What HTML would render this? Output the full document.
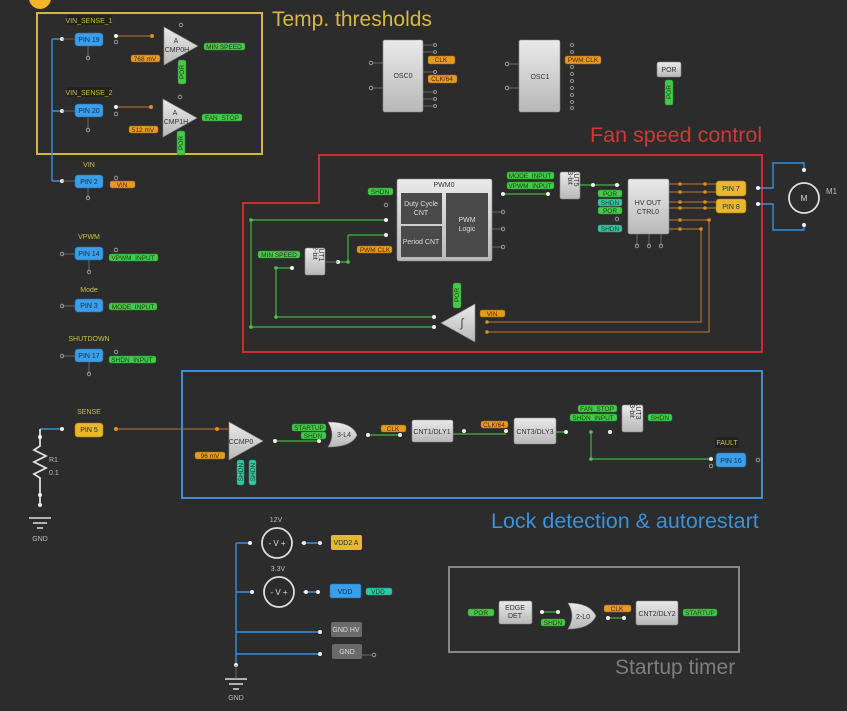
<!DOCTYPE html>
<html><head><meta charset="utf-8"><style>
html,body{margin:0;padding:0;background:#2c2c2c;}
svg{display:block;font-family:"Liberation Sans",sans-serif;}
.g{fill:#45c94a;stroke:#2a8a2e;stroke-width:.5}
.o{fill:#e79a22;stroke:#9a5e10;stroke-width:.5}
.t{fill:#2fc9a8;stroke:#1a8a70;stroke-width:.5}
.tx{font-size:6.5px;fill:#1e3a10;text-anchor:middle}
.ox{font-size:6.5px;fill:#4a2a00;text-anchor:middle}
.pin{fill:#3a9ee8;stroke:#2070b0;stroke-width:.6}
.px{font-size:7px;fill:#0f3050;text-anchor:middle}
.blk{fill:url(#gr);stroke:#888;stroke-width:.6}
.bx{font-size:7px;fill:#333;text-anchor:middle}
.lb{font-size:7px;fill:#c8c040;text-anchor:middle}
.wl{font-size:7px;fill:#bbb;text-anchor:middle}
.d{fill:#eee}
.od{fill:#e08a20}
.gd{fill:#45c94a}
.oc{fill:none;stroke:#aaa;stroke-width:.8}
.ln{stroke:#777;stroke-width:.8;fill:none}
.gl{stroke:#3cb83c;stroke-width:1.2;fill:none}
.ol{stroke:#c07a30;stroke-width:1;fill:none}
.bl{stroke:#3a8ee0;stroke-width:1.4;fill:none}
</style></head><body>
<svg width="847" height="711" viewBox="0 0 847 711">
<defs><linearGradient id="gr" x1="0" y1="0" x2="0" y2="1"><stop offset="0" stop-color="#eaeaea"/><stop offset="1" stop-color="#b8b8b8"/></linearGradient></defs>
<rect width="847" height="711" fill="#2c2c2c"/>
<circle cx="40" cy="-2" r="11" fill="#f2b424"/>

<!-- Temp thresholds -->
<rect x="37" y="13" width="225" height="141" fill="none" stroke="#d8b440" stroke-width="2"/>
<text x="272" y="26" font-size="21" fill="#d8b840">Temp. thresholds</text>
<path class="bl" d="M52 39V181M52 39H62M52 111H62M52 181H62"/>
<circle class="d" cx="62" cy="39" r="2"/><circle class="d" cx="62" cy="111" r="2"/><circle class="d" cx="62" cy="181" r="2"/>
<path class="ln" d="M62 39H75M62 111H75M62 181H75M88 46V58M88 118V130M88 188V198"/>
<circle class="oc" cx="88" cy="58" r="1.8"/><circle class="oc" cx="88" cy="130" r="1.8"/><circle class="oc" cx="88" cy="198" r="1.8"/>
<rect x="66" y="15" width="46" height="10" fill="#222"/><text class="lb" x="89" y="23">VIN_SENSE_1</text>
<rect class="pin" x="75" y="33" width="28" height="13" rx="3"/><text class="px" x="89" y="42">PIN 19</text>
<path class="ol" d="M116 36H152"/><circle class="od" cx="152" cy="36" r="2"/><circle class="d" cx="116" cy="36" r="2"/><circle class="oc" cx="116" cy="42" r="1.8"/>
<polygon class="blk" points="164,27 198,46 164,65"/><text class="bx" x="176" y="43">A</text><text class="bx" x="177" y="52" font-size="6">CMP0H</text>
<circle class="oc" cx="181" cy="25" r="1.8"/>
<rect class="o" x="131" y="55" width="29" height="7" rx="2"/><text class="ox" x="145" y="61">768 mV</text>
<rect class="g" x="204" y="43" width="41" height="7" rx="2"/><text class="tx" x="224" y="49">MIN SPEED</text>
<rect class="g" x="178" y="60" width="8" height="24" rx="2"/><text class="tx" transform="translate(184,72) rotate(-90)">POR</text>
<rect x="66" y="87" width="46" height="10" fill="#222"/><text class="lb" x="89" y="95">VIN_SENSE_2</text>
<rect class="pin" x="75" y="104" width="28" height="13" rx="3"/><text class="px" x="89" y="113">PIN 20</text>
<path class="ol" d="M116 107H151"/><circle class="od" cx="151" cy="107" r="2"/><circle class="d" cx="116" cy="107" r="2"/><circle class="oc" cx="116" cy="114" r="1.8"/>
<polygon class="blk" points="163,99 197,118 163,137"/><text class="bx" x="175" y="115">A</text><text class="bx" x="176" y="124" font-size="6">CMP1H</text>
<circle class="oc" cx="180" cy="97" r="1.8"/>
<rect class="o" x="129" y="126" width="29" height="7" rx="2"/><text class="ox" x="143" y="132">512 mV</text>
<rect class="g" x="202" y="114" width="40" height="7" rx="2"/><text class="tx" x="222" y="120">FAN_STOP</text>
<rect class="g" x="177" y="131" width="8" height="24" rx="2"/><text class="tx" transform="translate(183,143) rotate(-90)">POR</text>
<text class="lb" x="89" y="167">VIN</text>
<rect class="pin" x="75" y="175" width="28" height="13" rx="3"/><text class="px" x="89" y="184">PIN 2</text>
<circle class="oc" cx="116" cy="178" r="1.8"/>
<rect class="o" x="110" y="181" width="25" height="7" rx="2"/><text class="ox" x="122" y="187">VIN</text>

<!-- left pins -->
<text class="lb" x="89" y="239">VPWM</text>
<rect class="pin" x="75" y="247" width="28" height="13" rx="3"/><text class="px" x="89" y="256">PIN 14</text>
<path class="ln" d="M62 254H75M89 260V272"/><circle class="oc" cx="62" cy="254" r="1.8"/><circle class="oc" cx="89" cy="272" r="1.8"/><circle class="oc" cx="116" cy="250" r="1.8"/>
<rect class="g" x="109" y="254" width="49" height="7" rx="2"/><text class="tx" x="133" y="260">VPWM_INPUT</text>
<text class="lb" x="89" y="292">Mode</text>
<rect class="pin" x="75" y="299" width="28" height="13" rx="3"/><text class="px" x="89" y="308">PIN 3</text>
<path class="ln" d="M62 306H75"/><circle class="oc" cx="62" cy="306" r="1.8"/>
<rect class="g" x="109" y="303" width="48" height="7" rx="2"/><text class="tx" x="133" y="309">MODE_INPUT</text>
<text class="lb" x="89" y="341">SHUTDOWN</text>
<rect class="pin" x="75" y="349" width="28" height="13" rx="3"/><text class="px" x="89" y="358">PIN 17</text>
<path class="ln" d="M62 356H75M89 362V374"/><circle class="oc" cx="62" cy="356" r="1.8"/><circle class="oc" cx="89" cy="374" r="1.8"/><circle class="oc" cx="116" cy="352" r="1.8"/>
<rect class="g" x="109" y="356" width="47" height="7" rx="2"/><text class="tx" x="132" y="362">SHDN_INPUT</text>
<text class="lb" x="89" y="414">SENSE</text>
<rect x="75" y="423" width="28" height="14" rx="3" fill="#eab62a" stroke="#a07a10" stroke-width=".6"/><text class="px" x="89" y="432" fill="#4a3000">PIN 5</text>
<path class="bl" d="M40 429H62"/><circle class="d" cx="62" cy="429" r="2"/>
<path class="ol" d="M116 429H228"/><circle class="od" cx="116" cy="429" r="2"/><circle class="od" cx="217" cy="429" r="2"/>
<path d="M40 429V446L34 450L46 456L34 462L46 468L34 474L40 478V505" stroke="#ddd" stroke-width="1.8" fill="none"/>
<circle class="d" cx="40" cy="437" r="2"/><circle class="d" cx="40" cy="495" r="2"/><circle class="d" cx="40" cy="505" r="2"/>
<text x="49" y="462" font-size="7" fill="#bbb">R1</text><text x="49" y="475" font-size="7" fill="#bbb">0.1</text>
<path d="M29 518H51M33 523H47M37 528H43" stroke="#ddd" stroke-width="1.5"/>
<text class="wl" x="40" y="541">GND</text>

<!-- OSCs -->
<rect class="blk" x="383" y="40" width="40" height="72" rx="2"/><text class="bx" x="403" y="78">OSC0</text>
<path class="ln" d="M372 63H383M372 88H383"/><circle class="oc" cx="371" cy="63" r="1.8"/><circle class="oc" cx="371" cy="88" r="1.8"/>
<g class="oc"><circle cx="435" cy="45" r="1.5"/><circle cx="435" cy="52" r="1.5"/><circle cx="435" cy="72" r="1.5"/><circle cx="435" cy="92" r="1.5"/><circle cx="435" cy="99" r="1.5"/><circle cx="435" cy="106" r="1.5"/></g>
<path class="ln" d="M423 45H435M423 52H435M423 72H435M423 92H435M423 99H435M423 106H435"/>
<rect class="o" x="428" y="56" width="27" height="8" rx="2"/><text class="ox" x="441" y="62">CLK</text>
<rect class="o" x="428" y="75" width="29" height="8" rx="2"/><text class="ox" x="442" y="81">CLK/64</text>
<rect class="blk" x="519" y="40" width="41" height="72" rx="2"/><text class="bx" x="540" y="79">OSC1</text>
<path class="ln" d="M508 64H519M508 88H519"/><circle class="oc" cx="507" cy="64" r="1.8"/><circle class="oc" cx="507" cy="88" r="1.8"/>
<g class="oc"><circle cx="572" cy="45" r="1.5"/><circle cx="572" cy="52" r="1.5"/><circle cx="572" cy="67" r="1.5"/><circle cx="572" cy="74" r="1.5"/><circle cx="572" cy="81" r="1.5"/><circle cx="572" cy="88" r="1.5"/><circle cx="572" cy="95" r="1.5"/><circle cx="572" cy="102" r="1.5"/><circle cx="572" cy="108" r="1.5"/></g>
<rect class="o" x="565" y="56" width="36" height="8" rx="2"/><text class="ox" x="583" y="62">PWM CLK</text>
<rect class="blk" x="657" y="62" width="24" height="15" rx="2"/><text class="bx" x="669" y="72">POR</text>
<rect class="g" x="665" y="80" width="8" height="25" rx="2"/><text class="tx" transform="translate(671,92) rotate(-90)">POR</text>

<!-- Fan speed control -->
<path d="M243 203H319V155H762V352H243Z" fill="none" stroke="#c83030" stroke-width="2"/>
<text x="590" y="142" font-size="21.5" fill="#d03838">Fan speed control</text>
<path class="gl" d="M251 220H386M251 220V327H434M348 235H386M348 235V262H338M276 268V317H434M276 268H292"/>
<circle class="gd" cx="251" cy="220" r="1.8"/><circle class="gd" cx="251" cy="327" r="1.8"/><circle class="gd" cx="348" cy="262" r="1.8"/><circle class="gd" cx="276" cy="268" r="1.8"/><circle class="gd" cx="276" cy="317" r="1.8"/>
<circle class="d" cx="386" cy="220" r="2"/><circle class="d" cx="386" cy="235" r="2"/><circle class="d" cx="338" cy="262" r="2"/><circle class="d" cx="292" cy="268" r="2"/><circle class="d" cx="434" cy="317" r="2"/><circle class="d" cx="434" cy="327" r="2"/>
<circle class="oc" cx="386" cy="205" r="1.8"/>
<rect class="blk" x="397" y="179" width="95" height="82" rx="2"/><text class="bx" x="444" y="187">PWM0</text>
<rect x="401" y="193" width="41" height="31" fill="#4a4a4a"/><text x="421" y="206" font-size="7" fill="#ddd" text-anchor="middle">Duty Cycle</text><text x="421" y="215" font-size="7" fill="#ddd" text-anchor="middle">CNT</text>
<rect x="401" y="226" width="41" height="31" fill="#4a4a4a"/><text x="421" y="244" font-size="7" fill="#ddd" text-anchor="middle">Period CNT</text>
<rect x="446" y="193" width="42" height="64" fill="#4a4a4a"/><text x="467" y="222" font-size="7" fill="#ddd" text-anchor="middle">PWM</text><text x="467" y="231" font-size="7" fill="#ddd" text-anchor="middle">Logic</text>
<path class="ln" d="M492 212H503M492 229H503M492 247H503"/><circle class="oc" cx="503" cy="212" r="1.8"/><circle class="oc" cx="503" cy="229" r="1.8"/><circle class="oc" cx="503" cy="247" r="1.8"/>
<rect class="g" x="368" y="188" width="25" height="7" rx="2"/><text class="tx" x="380" y="194">SHDN</text>
<rect class="o" x="357" y="246" width="35" height="7" rx="2"/><text class="ox" x="375" y="252">PWM CLK</text>
<rect class="g" x="258" y="251" width="42" height="7" rx="2"/><text class="tx" x="279" y="257">MIN SPEED</text>
<rect class="blk" x="305" y="248" width="20" height="27" rx="2"/><text class="bx" font-size="5" transform="translate(313,253) rotate(90)">2-bit</text><text class="bx" font-size="5" transform="translate(319,253) rotate(90)">LUT1</text>
<path class="ln" d="M325 262H338"/>
<path class="gl" d="M503 194H548"/><circle class="d" cx="503" cy="194" r="2"/><circle class="d" cx="548" cy="194" r="2"/>
<rect class="g" x="507" y="172" width="47" height="7" rx="2"/><text class="tx" x="530" y="178">MODE_INPUT</text>
<rect class="g" x="507" y="182" width="47" height="7" rx="2"/><text class="tx" x="530" y="188">VPWM_INPUT</text>
<rect class="blk" x="560" y="172" width="20" height="27" rx="2"/><text class="bx" font-size="5" transform="translate(568,178) rotate(90)">3-bit</text><text class="bx" font-size="5" transform="translate(574,178) rotate(90)">LUT5</text>
<path class="gl" d="M580 185H620"/><circle class="d" cx="593" cy="185" r="2"/><circle class="d" cx="617" cy="185" r="2"/>
<rect class="g" x="598" y="190" width="24" height="7" rx="2"/><text class="tx" x="610" y="196">POR</text>
<rect class="t" x="598" y="199" width="24" height="7" rx="2"/><text class="tx" x="610" y="205">SHDN</text>
<rect class="g" x="598" y="207" width="24" height="7" rx="2"/><text class="tx" x="610" y="213">POR</text>
<circle class="oc" cx="617" cy="219" r="1.8"/>
<rect class="t" x="598" y="225" width="24" height="7" rx="2"/><text class="tx" x="610" y="231">SHDN</text>
<rect class="blk" x="628" y="179" width="41" height="55" rx="2"/><text class="bx" x="648" y="205">HV OUT</text><text class="bx" x="648" y="214">CTRL0</text>
<path class="ln" d="M637 234V246M649 234V246M661 234V246"/><circle class="oc" cx="637" cy="246" r="1.8"/><circle class="oc" cx="649" cy="246" r="1.8"/><circle class="oc" cx="661" cy="246" r="1.8"/>
<path class="ol" d="M669 184H716M669 192H716M669 202H716M669 208H716M669 220H709V332H487M669 229H701V322H487"/>
<g class="od"><circle cx="680" cy="184" r="1.8"/><circle cx="680" cy="192" r="1.8"/><circle cx="680" cy="202" r="1.8"/><circle cx="680" cy="208" r="1.8"/><circle cx="680" cy="220" r="1.8"/><circle cx="680" cy="229" r="1.8"/><circle cx="705" cy="184" r="1.8"/><circle cx="705" cy="192" r="1.8"/><circle cx="705" cy="202" r="1.8"/><circle cx="705" cy="208" r="1.8"/><circle cx="709" cy="220" r="1.8"/><circle cx="701" cy="229" r="1.8"/><circle cx="487" cy="322" r="1.8"/><circle cx="487" cy="332" r="1.8"/></g>
<rect x="716" y="181" width="30" height="15" rx="3" fill="#eab62a" stroke="#a07a10" stroke-width=".6"/><text class="px" x="731" y="191" fill="#4a3000">PIN 7</text>
<rect x="716" y="199" width="30" height="14" rx="3" fill="#eab62a" stroke="#a07a10" stroke-width=".6"/><text class="px" x="731" y="209" fill="#4a3000">PIN 8</text>
<path class="bl" d="M758 188H773V163H804V170M758 204H773V230H804V225"/>
<circle class="d" cx="758" cy="188" r="2"/><circle class="d" cx="758" cy="204" r="2"/><circle class="d" cx="804" cy="170" r="2"/><circle class="d" cx="804" cy="225" r="2"/>
<circle cx="804" cy="198" r="15" fill="none" stroke="#ddd" stroke-width="1.8"/><text x="804" y="201" font-size="8" fill="#ddd" text-anchor="middle">M</text>
<text x="826" y="194" font-size="8" fill="#bbb">M1</text>
<polygon class="blk" points="475,304 475,342 441,323"/><text x="462" y="327" font-size="12" fill="#444" text-anchor="middle">∫</text>
<rect class="g" x="453" y="283" width="8" height="25" rx="2"/><text class="tx" transform="translate(459,295) rotate(-90)">POR</text>
<rect class="o" x="480" y="310" width="25" height="7" rx="2"/><text class="ox" x="492" y="316">VIN</text>

<!-- Lock detection -->
<rect x="182" y="371" width="580" height="127" fill="none" stroke="#3a8fd8" stroke-width="2"/>
<text x="491" y="528" font-size="21.5" fill="#3a92d8">Lock detection &amp; autorestart</text>
<polygon class="blk" points="229,422 229,460 263,441"/><text class="bx" x="241" y="444">CCMP0</text>
<rect class="o" x="195" y="452" width="30" height="7" rx="2"/><text class="ox" x="210" y="458">96 mV</text>
<rect class="t" x="237" y="460" width="7" height="25" rx="2"/><text class="tx" transform="translate(243,472) rotate(-90)">SHDN</text>
<rect class="t" x="249" y="460" width="7" height="25" rx="2"/><text class="tx" transform="translate(255,472) rotate(-90)">SHDN</text>
<path class="gl" d="M275 441H319"/><circle class="d" cx="275" cy="441" r="2"/><circle class="d" cx="319" cy="441" r="2"/>
<rect class="g" x="292" y="424" width="34" height="7" rx="2"/><text class="tx" x="309" y="430">STARTUP</text>
<rect class="g" x="301" y="432" width="25" height="7" rx="2"/><text class="tx" x="313" y="438">SHDN</text>
<path d="M328 422Q352 422 357 435Q352 447 328 447Q336 435 328 422Z" fill="url(#gr)" stroke="#888" stroke-width=".6"/><text class="bx" x="344" y="437">3-L4</text>
<path class="gl" d="M368 435H400M433 434H506M522 432H564M591 432V459H711"/><circle class="d" cx="368" cy="435" r="2"/><circle class="d" cx="400" cy="435" r="2"/>
<rect class="o" x="381" y="425" width="25" height="7" rx="2"/><text class="ox" x="393" y="431">CLK</text>
<rect class="blk" x="412" y="420" width="41" height="22" rx="2"/><text class="bx" x="432" y="434">CNT1/DLY1</text>
<circle class="d" cx="464" cy="431" r="2"/><circle class="d" cx="506" cy="431" r="2"/>
<rect class="o" x="481" y="421" width="27" height="7" rx="2"/><text class="ox" x="494" y="427">CLK/64</text>
<rect class="blk" x="514" y="418" width="42" height="26" rx="2"/><text class="bx" x="535" y="434">CNT3/DLY3</text>
<circle class="d" cx="566" cy="432" r="2"/><circle class="d" cx="610" cy="432" r="2"/><circle class="gd" cx="591" cy="432" r="1.8"/><circle class="gd" cx="591" cy="459" r="1.8"/><circle class="d" cx="711" cy="459" r="2"/><circle class="oc" cx="711" cy="466" r="1.8"/>
<rect class="g" x="578" y="405" width="39" height="7" rx="2"/><text class="tx" x="597" y="411">FAN_STOP</text>
<rect class="g" x="570" y="414" width="47" height="7" rx="2"/><text class="tx" x="593" y="420">SHDN_INPUT</text>
<rect class="blk" x="622" y="405" width="21" height="27" rx="2"/><text class="bx" font-size="5" transform="translate(630,411) rotate(90)">3-bit</text><text class="bx" font-size="5" transform="translate(636,411) rotate(90)">LUT3</text>
<rect class="g" x="648" y="414" width="24" height="7" rx="2"/><text class="tx" x="660" y="420">SHDN</text>
<rect x="715" y="437" width="24" height="11" fill="#222"/><text class="lb" x="727" y="445">FAULT</text>
<rect class="pin" x="716" y="453" width="30" height="14" rx="3"/><text class="px" x="731" y="463">PIN 16</text>
<circle class="oc" cx="758" cy="460" r="1.8"/>

<!-- Power -->
<path class="bl" d="M236 543V665M236 543H250M236 592H252M236 632H320M236 654H320M301 543H320M303 592H320"/>
<circle class="d" cx="250" cy="543" r="2"/><circle class="d" cx="304" cy="543" r="2"/><circle class="d" cx="320" cy="543" r="2"/><circle class="d" cx="252" cy="592" r="2"/><circle class="d" cx="306" cy="592" r="2"/><circle class="d" cx="318" cy="592" r="2"/><circle class="d" cx="320" cy="632" r="2"/><circle class="d" cx="320" cy="654" r="2"/><circle class="d" cx="236" cy="665" r="2"/><circle class="oc" cx="374" cy="655" r="1.8"/>
<text class="wl" x="276" y="522">12V</text>
<circle cx="277" cy="543" r="15" fill="none" stroke="#ddd" stroke-width="1.8"/><text x="277" y="546" font-size="8" fill="#ddd" text-anchor="middle">- V +</text>
<rect x="331" y="535" width="31" height="15" rx="2" fill="#eab62a"/><text class="px" x="346" y="545" fill="#4a3000">VDD2 A</text>
<text class="wl" x="278" y="571">3.3V</text>
<circle cx="279" cy="592" r="15" fill="none" stroke="#ddd" stroke-width="1.8"/><text x="279" y="595" font-size="8" fill="#ddd" text-anchor="middle">- V +</text>
<rect class="pin" x="330" y="584" width="31" height="14" rx="2"/><text class="px" x="345" y="594">VDD</text>
<rect class="t" x="366" y="588" width="26" height="7" rx="2"/><text class="tx" x="378" y="594">VDD</text>
<rect x="331" y="622" width="31" height="15" rx="2" fill="#6a6a6a"/><text x="346" y="632" font-size="7" fill="#ddd" text-anchor="middle">GND HV</text>
<rect x="332" y="644" width="30" height="15" rx="2" fill="#6a6a6a"/><text x="347" y="654" font-size="7" fill="#ddd" text-anchor="middle">GND</text>
<path class="ln" d="M362 655H372"/>
<path d="M225 679H247M229 684H243M233 689H239" stroke="#ddd" stroke-width="1.5"/><path class="ln" d="M236 665V679"/>
<text class="wl" x="236" y="700">GND</text>

<!-- Startup timer -->
<rect x="449" y="567" width="290" height="85" fill="none" stroke="#888" stroke-width="2"/>
<text x="615" y="674" font-size="21" fill="#7e7e7e">Startup timer</text>
<rect class="g" x="468" y="609" width="26" height="7" rx="2"/><text class="tx" x="481" y="615">POR</text>
<rect class="blk" x="499" y="601" width="33" height="23" rx="2"/><text class="bx" x="515" y="610" font-size="6.5">EDGE</text><text class="bx" x="515" y="618" font-size="6.5">DET</text>
<path class="gl" d="M542 612H558"/><circle class="d" cx="542" cy="612" r="2"/><circle class="d" cx="558" cy="612" r="2"/>
<rect class="g" x="541" y="619" width="24" height="7" rx="2"/><text class="tx" x="553" y="625">SHDN</text>
<path d="M568 603Q590 603 596 616Q590 629 568 629Q576 616 568 603Z" fill="url(#gr)" stroke="#888" stroke-width=".6"/><text class="bx" x="583" y="619">2-L0</text>
<path class="gl" d="M608 618H624"/><circle class="d" cx="608" cy="618" r="2"/><circle class="d" cx="624" cy="618" r="2"/>
<rect class="o" x="604" y="605" width="27" height="7" rx="2"/><text class="ox" x="617" y="611">CLK</text>
<rect class="blk" x="636" y="601" width="42" height="24" rx="2"/><text class="bx" x="657" y="616">CNT2/DLY2</text>
<rect class="g" x="683" y="609" width="34" height="7" rx="2"/><text class="tx" x="700" y="615">STARTUP</text>
</svg>
</body></html>
